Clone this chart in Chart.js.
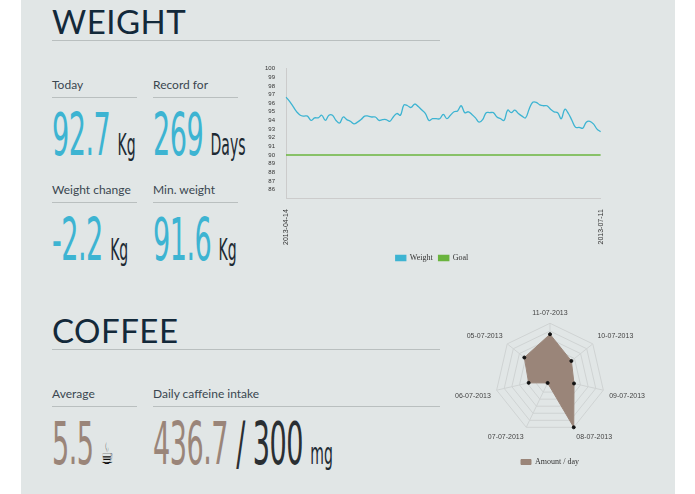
<!DOCTYPE html>
<html lang="en">
<head>
<meta charset="UTF-8">
<title>Weight and Coffee</title>
<style>
    body { margin: 0; background: #fff; width: 695px; height: 494px; overflow: hidden; font-family: Lato, sans-serif; }
    #panel { position: absolute; left: 21px; top: 0; width: 654px; height: 494px; background: #e1e6e6; }
    .title { position: absolute; left: 52px; width: 388px; font-size: 33px; color: #13293a; letter-spacing: 0.5px;
             border-bottom: 1px solid #b9bfbf; line-height: 38px; }
    .label { position: absolute; font-size: 12px; color: #3a4650; border-bottom: 1px solid #b9bfbf; padding-bottom: 5px; }
    .big { position: absolute; font-family: 'DejaVu Sans Condensed', sans-serif; font-size: 58px; line-height: 58px;
           transform: scaleX(0.52); transform-origin: left top; white-space: nowrap; letter-spacing: -1px; }
    .big small { font-size: 30px; color: #1d2a33; letter-spacing: 0; margin-left: 14px; }
    .blue { color: #3db4d2; }
    .brown { color: #9a8579; }
    canvas { position: absolute; }
</style>
</head>
<body>
<div id="panel"></div>
<div class="title" style="top:2px">WEIGHT</div>
<div class="label" style="left:52px;top:77px;width:85px">Today</div>
<div class="label" style="left:153px;top:77px;width:85px">Record for</div>
<div class="big blue" style="left:52px;top:106px">92.7<small>Kg</small></div>
<div class="big blue" style="left:153px;top:106px">269<small>Days</small></div>
<div class="label" style="left:52px;top:182px;width:85px">Weight change</div>
<div class="label" style="left:153px;top:182px;width:85px">Min. weight</div>
<div class="big blue" style="left:52px;top:211px">-2.2<small>Kg</small></div>
<div class="big blue" style="left:153px;top:211px">91.6<small>Kg</small></div>

<div class="title" style="top:311px">COFFEE</div>
<div class="label" style="left:52px;top:386px;width:85px">Average</div>
<div class="label" style="left:153px;top:386px;width:287px">Daily caffeine intake</div>
<div class="big brown" style="left:52px;top:415px">5.5<small style="font-size:30px;color:#111">☕</small></div>
<div class="big brown" style="left:153px;top:415px">436.7<span style="color:#2a2f33"> / 300</span><small>mg</small></div>

<canvas id="weightChart" style="left:262px;top:62px;width:350px;height:210px"></canvas>
<canvas id="coffeeChart" style="left:455px;top:300px;width:190px;height:176px"></canvas>

<script src="https://cdn.jsdelivr.net/npm/chart.js"></script>
<script>
const weights = [96.7, 96.2, 95.6, 95.0, 94.6, 94.5, 94.5, 94.0, 94.3, 94.3,
                 94.6, 94.0, 94.6, 94.6, 94.0, 93.7, 94.4, 94.1, 93.9, 93.6,
                 93.8, 94.1, 94.5, 94.5, 94.4, 94.4, 94.0, 94.1, 94.1, 93.9,
                 94.4, 94.8, 94.6, 95.8, 95.7, 95.5, 95.9, 95.6, 95.2, 94.8,
                 94.0, 94.2, 94.2, 94.2, 94.7, 94.2, 94.6, 95.0, 95.1, 95.7,
                 94.9, 95.0, 94.7, 94.3, 93.8, 94.1, 94.9, 94.9, 94.9, 94.4,
                 94.2, 94.0, 95.2, 94.9, 95.2, 94.8, 94.5, 94.3, 95.3, 96.1,
                 96.1, 95.8, 95.7, 95.7, 95.3, 95.0, 94.9, 94.2, 95.3, 94.8,
                 94.0, 93.2, 93.2, 93.1, 93.8, 93.9, 93.6, 93.0, 92.7];
const goalWeight = 90;
const startDate = '2013-04-14';

const coffeeDays = ['11-07-2013', '10-07-2013', '09-07-2013', '08-07-2013', '07-07-2013', '06-07-2013', '05-07-2013'];
const coffeeCups = [8, 5, 4.5, 10, 1, 4, 6];

const dates = [];
const d0 = new Date(startDate + 'T12:00:00Z');
for (let i = 0; i < weights.length; i++) {
    const d = new Date(d0.getTime() + i * 86400000);
    dates.push(d.toISOString().slice(0, 10));
}

Chart.defaults.animation = false;

new Chart(document.getElementById('weightChart'), {
    type: 'line',
    data: {
        labels: dates,
        datasets: [
            { label: 'Weight', data: weights, borderColor: '#3db4d2', backgroundColor: '#3db4d2',
              borderWidth: 1.3, pointRadius: 0, tension: 0.4, fill: false },
            { label: 'Goal', data: dates.map(() => goalWeight), borderColor: '#6ab43e', backgroundColor: '#6ab43e',
              borderWidth: 1.5, pointRadius: 0, fill: false }
        ]
    },
    options: {
        responsive: false,
        layout: { padding: { top: 2, right: 10 } },
        plugins: {
            legend: { position: 'bottom', labels: { boxWidth: 10, boxHeight: 5, padding: 6, font: { family: 'Liberation Serif', size: 8 }, color: '#333' } },
            tooltip: { enabled: false }
        },
        scales: {
            x: {
                grid: { display: false },
                border: { color: '#ccc' },
                ticks: {
                    autoSkip: false, maxRotation: 90, minRotation: 90, font: { size: 7 }, color: '#333',
                    callback: (v, i) => (i === 0 || i === dates.length - 1) ? dates[i] : ''
                }
            },
            y: {
                min: 85, max: 100,
                grid: { display: false },
                border: { color: '#ccc' },
                ticks: { autoSkip: false, stepSize: 1, font: { size: 6 }, color: '#333', callback: v => v === 85 ? '' : v }
            }
        }
    }
});

new Chart(document.getElementById('coffeeChart'), {
    type: 'radar',
    data: {
        labels: coffeeDays,
        datasets: [{ label: 'Amount / day', data: coffeeCups, backgroundColor: '#9a8579', borderColor: '#9a8579',
                     borderWidth: 1, pointRadius: 1.5, pointBackgroundColor: '#111', pointBorderColor: '#111' }]
    },
    options: {
        responsive: false,
        layout: { padding: { top: 4, bottom: 0 } },
        plugins: {
            legend: { position: 'bottom', labels: { boxWidth: 10, boxHeight: 5, padding: 12, font: { family: 'Liberation Serif', size: 8 }, color: '#333' } },
            tooltip: { enabled: false }
        },
        scales: {
            r: {
                min: 0, max: 10,
                ticks: { display: false, stepSize: 1.43 },
                grid: { color: '#cfd3d3' },
                angleLines: { color: '#cfd3d3' },
                pointLabels: { font: { size: 7 }, color: '#444', padding: 6 }
            }
        }
    }
});
</script>
</body>
</html>
